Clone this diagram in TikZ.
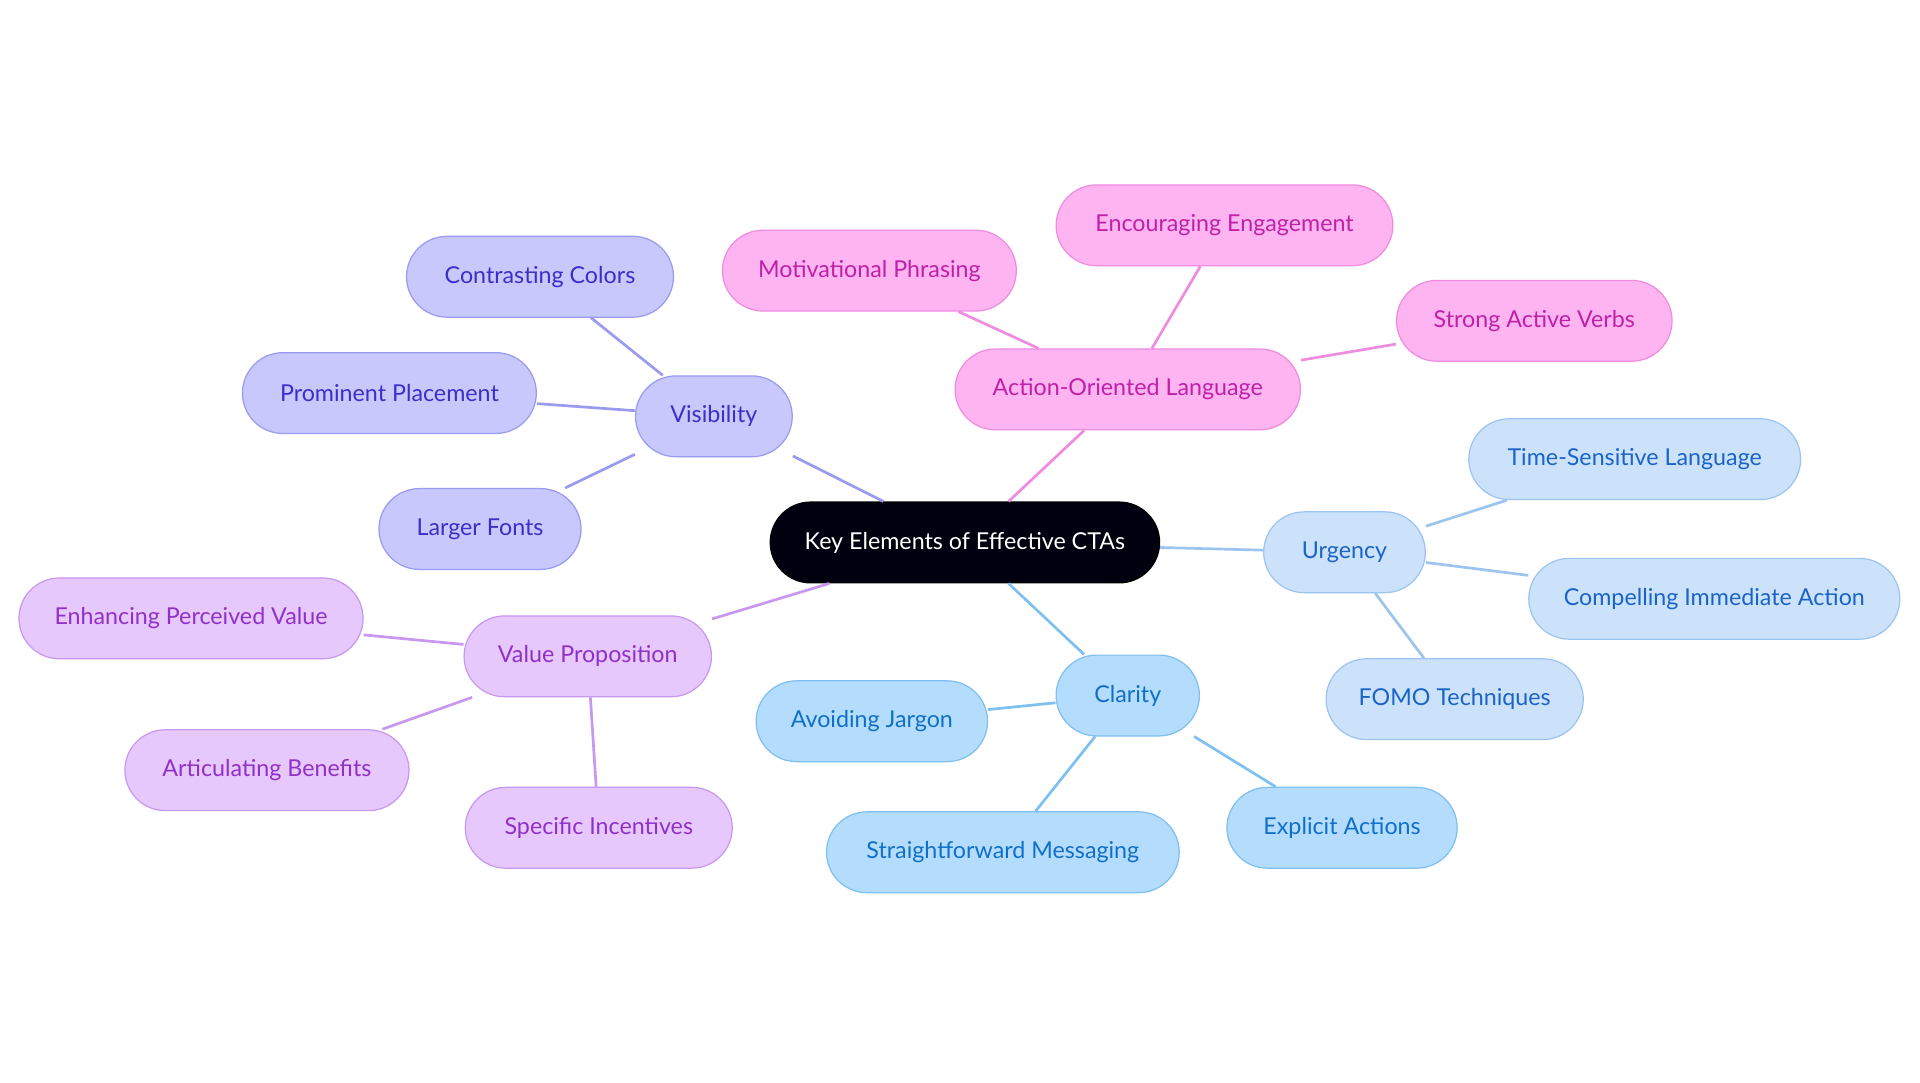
\documentclass[tikz,border=0pt]{standalone}
\usepackage{fontspec}
\setmainfont{Lato}
\begin{document}
\begin{tikzpicture}[x=1pt,y=-1pt,
  base/.style={rounded corners=33pt,minimum height=66pt,inner sep=0pt,line width=1pt,font=\fontsize{19}{19}\selectfont},
  vis/.style={base,fill=vf,draw=vs,text=vt},
  act/.style={base,fill=af,draw=as,text=at},
  urg/.style={base,fill=uf,draw=us,text=ut},
  cla/.style={base,fill=cf,draw=cs,text=ct},
  val/.style={base,fill=pf,draw=ps,text=pt},
  e/.style={line width=2.2pt}]
\definecolor{vf}{HTML}{C8C8FC}\definecolor{vs}{HTML}{9A9AF0}\definecolor{vt}{HTML}{3A2FC8}
\definecolor{af}{HTML}{FDB4F0}\definecolor{as}{HTML}{F08CE0}\definecolor{at}{HTML}{C020A8}
\definecolor{uf}{HTML}{CCE2FA}\definecolor{us}{HTML}{9CC4F0}\definecolor{ut}{HTML}{1A64C8}
\definecolor{cf}{HTML}{B4DCFC}\definecolor{cs}{HTML}{7EC0F0}\definecolor{ct}{HTML}{1070C8}
\definecolor{pf}{HTML}{E6C8FC}\definecolor{ps}{HTML}{C898F0}\definecolor{pt}{HTML}{9030C8}
\useasboundingbox[fill=white] (0,0) rectangle (1568,884);
\node[base,fill=black!90!blue!60!black,draw=black,text=white,minimum width=318pt] (k) at (788,443) {Key Elements of Effective CTAs};
\node[vis,minimum width=128pt] (v) at (583,340) {Visibility};
\node[vis,minimum width=218pt] (v1) at (441,226) {Contrasting Colors};
\node[vis,minimum width=240pt] (v2) at (318,321) {Prominent Placement};
\node[vis,minimum width=165pt] (v3) at (392,432) {Larger Fonts};
\node[act,minimum width=282pt] (a) at (921,318) {Action-Oriented Language};
\node[act,minimum width=240pt] (a1) at (710,221) {Motivational Phrasing};
\node[act,minimum width=275pt] (a2) at (1000,184) {Encouraging Engagement};
\node[act,minimum width=225pt] (a3) at (1253,262) {Strong Active Verbs};
\node[urg,minimum width=132pt] (u) at (1098,451) {Urgency};
\node[urg,minimum width=271pt] (u1) at (1335,375) {Time-Sensitive Language};
\node[urg,minimum width=303pt] (u2) at (1400,489) {Compelling Immediate Action};
\node[urg,minimum width=210pt] (u3) at (1188,571) {FOMO Techniques};
\node[cla,minimum width=117pt] (c) at (921,568) {Clarity};
\node[cla,minimum width=189pt] (c1) at (712,589) {Avoiding Jargon};
\node[cla,minimum width=288pt] (c2) at (819,696) {Straightforward Messaging};
\node[cla,minimum width=188pt] (c3) at (1096,676) {Explicit Actions};
\node[val,minimum width=202pt] (p) at (480,536) {Value Proposition};
\node[val,minimum width=281pt] (p1) at (156,505) {Enhancing Perceived Value};
\node[val,minimum width=232pt] (p2) at (218,629) {Articulating Benefits};
\node[val,minimum width=218pt] (p3) at (489,676) {Specific Incentives};
\draw[e,vs] (k)--(v) (v)--(v1) (v)--(v2) (v)--(v3);
\draw[e,as] (k)--(a) (a)--(a1) (a)--(a2) (a)--(a3);
\draw[e,us] (k)--(u) (u)--(u1) (u)--(u2) (u)--(u3);
\draw[e,cs] (k)--(c) (c)--(c1) (c)--(c2) (c)--(c3);
\draw[e,ps] (k)--(p) (p)--(p1) (p)--(p2) (p)--(p3);
\end{tikzpicture}
\end{document}
